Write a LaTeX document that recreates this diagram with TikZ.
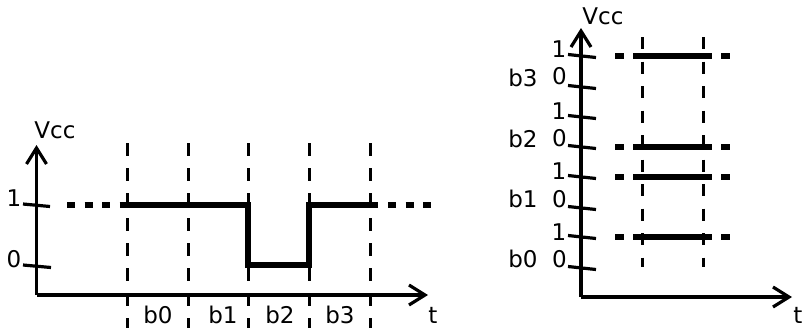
\documentclass[tikz,border=0pt]{standalone}
\usepackage{fontspec}
\setmainfont{DejaVu Sans}
\usetikzlibrary{arrows.meta}

\tikzset{
  axis/.style={line width=1.6pt, -{Straight Barb[length=8pt,width=10pt]}},
  tick/.style={line width=1.6pt},
  slot/.style={line width=1.5pt, dash pattern=on 6.5pt off 6pt},
  slotB/.style={line width=1.5pt, dash pattern=on 6pt off 6.25pt},
  level/.style={line width=2.8pt},
  idle/.style={line width=2.8pt, dash pattern=on 4pt off 4.75pt},
  lbl/.style={font=\fontsize{11.5}{13}\selectfont, inner sep=0pt},
}

\begin{document}
\begin{tikzpicture}[x=0.5pt, y=-0.5pt]
    \useasboundingbox (0,0) rectangle (804,328);

    % serial: one line, bits one after the other
    \coordinate (oA) at (36.5,295);
    \draw[axis] (oA) -- (36.5,145);
    \draw[axis] (oA) -- (428,295);
    \node[lbl] (vccA) at (55,130) {Vcc};
    \node[lbl] (tA) at (433,315) {t};

    \draw[tick] (23,204) -- (50,206.5);
    \node[lbl] (oneA) at (14,198) {1};
    \draw[tick] (23,265) -- (51,267.5);
    \node[lbl] (zeroA) at (14,259) {0};

    \foreach \x in {127,188,248,309,370}
        \draw[slot] (\x,143) -- (\x,328);
    \foreach \x/\b in {158/0,223/1,280/2,340/3}
        \node[lbl] (bA\b) at (\x,315) {b\b};

    \draw[idle] (67,205) -- (127,205);
    \draw[level] (127,205) -- (248,205) -- (248,265) -- (309,265) -- (309,205) -- (378,205);
    \draw[idle] (388,205) -- (432,205);

    % parallel: one line per bit
    \coordinate (oB) at (581,297);
    \draw[axis] (oB) -- (581,28);
    \draw[axis] (oB) -- (792,297);
    \node[lbl] (vccB) at (603,16) {Vcc};
    \node[lbl] (tB) at (798,315) {t};

    \foreach \y in {56,87,117,147,177,208,237,268}
        \draw[tick] (568,\y-1.5) -- (596,\y+1.5);
    \foreach \y in {49,111,171,232}
        \node[lbl] (oneB\y) at (559,\y) {1};
    \foreach \y in {76,138,199,259}
        \node[lbl] (zeroB\y) at (559.5,\y) {0};
    \foreach \y/\b in {78/3,139/2,199/1,259/0}
        \node[lbl] (bB\b) at (523,\y) {b\b};

    \foreach \x in {642,703}
        \draw[slotB] (\x,37) -- (\x,267);
    \foreach \y in {56,147,177,237} {
        \draw[level] (615,\y) -- (624,\y);
        \draw[level] (633,\y) -- (712,\y);
        \draw[level] (721,\y) -- (730,\y);
    }
\end{tikzpicture}
\end{document}
